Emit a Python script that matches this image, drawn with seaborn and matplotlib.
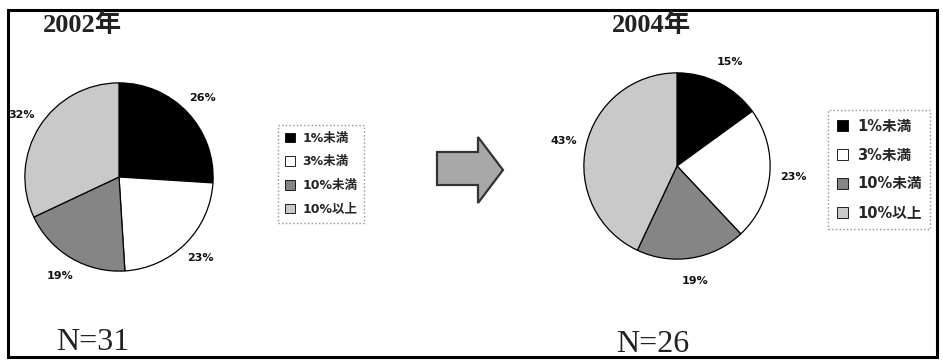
import matplotlib
matplotlib.use("Agg")
import matplotlib.pyplot as plt
from matplotlib.patches import Patch, Polygon, Rectangle
import seaborn as sns

# Share of companies by ratio category, two survey years
categories = ["1%未満", "3%未満", "10%未満", "10%以上"]
shares_2002 = [26, 23, 19, 32]
shares_2004 = [15, 23, 19, 43]
years = ["2002年", "2004年"]
sample_sizes = ["N=31", "N=26"]

sns.set_theme(style="white")
cjk_sans = ["DejaVu Sans", "Noto Sans CJK JP"]
cjk_serif = ["Liberation Serif", "Noto Sans CJK JP"]
plt.rcParams["font.family"] = cjk_sans

wedge_colors = ["#000000", "#ffffff", "#858585", "#c9c9c9"]

W, H = 943, 360
fig = plt.figure(figsize=(W / 100, H / 100), dpi=100)
fig.patch.set_facecolor("white")


def fx(px):
    return px / W


def fy(py):
    return 1 - py / H


def pie_axes(cx, cy, r):
    return fig.add_axes([fx(cx - r), fy(cy + r), 2 * r / W, 2 * r / H])


def draw_pie(ax, values, pctdist):
    ax.pie(values, colors=wedge_colors, startangle=90, counterclock=False,
           radius=1.0,
           wedgeprops=dict(edgecolor="black", linewidth=0.9),
           autopct=lambda p: f"{p:.0f}%", pctdistance=pctdist,
           textprops=dict(fontsize=8, fontweight="bold", color="#111111"))
    ax.set_xlim(-1.02, 1.02)
    ax.set_ylim(-1.02, 1.02)
    ax.set_axis_off()


ax1 = pie_axes(119, 177, 96)
draw_pie(ax1, shares_2002, 1.22)
ax2 = pie_axes(677, 166, 95)
draw_pie(ax2, shares_2004, 1.25)

# Legends
handles = [Patch(facecolor=c, edgecolor="black", linewidth=0.6) for c in wedge_colors]


def add_legend(x, y, size, spacing, pad):
    leg = fig.legend(handles, categories, loc="upper left",
                     bbox_to_anchor=(fx(x), fy(y)),
                     prop=dict(family=cjk_sans, weight="bold", size=size),
                     handlelength=0.8, handleheight=0.8, handletextpad=0.6,
                     labelspacing=spacing, borderpad=pad, fancybox=False,
                     frameon=True, borderaxespad=0)
    fr = leg.get_frame()
    fr.set_edgecolor("#777777")
    fr.set_linestyle(":")
    fr.set_linewidth(1.0)
    return leg


add_legend(278, 125, 9, 0.85, 0.55)
add_legend(828, 110, 10.5, 0.95, 0.6)

# Arrow between the two years
arrow_px = [(437, 152), (478, 152), (478, 137), (503, 170),
            (478, 203), (478, 185), (437, 185)]
fig.patches.append(Polygon([(fx(x), fy(y)) for x, y in arrow_px], closed=True,
                           facecolor="#a8a8a8", edgecolor="#333333",
                           linewidth=1.6, transform=fig.transFigure))

# Year titles and sample sizes
fig.text(fx(82), fy(25), years[0], ha="center", va="center",
         family=cjk_serif, fontsize=19, fontweight="bold", color="#222222")
fig.text(fx(651), fy(25), years[1], ha="center", va="center",
         family=cjk_serif, fontsize=19, fontweight="bold", color="#222222")
fig.text(fx(93), fy(350), sample_sizes[0], ha="center", va="baseline",
         family=cjk_serif, fontsize=23, color="#222222")
fig.text(fx(653), fy(352), sample_sizes[1], ha="center", va="baseline",
         family=cjk_serif, fontsize=23, color="#222222")

# Outer frame
fig.patches.append(Rectangle((fx(8), fy(357)), fx(937) - fx(8), fy(10) - fy(357),
                             fill=False, edgecolor="black", linewidth=2.2,
                             transform=fig.transFigure))

fig.savefig("out.png", dpi=100, facecolor="white")
